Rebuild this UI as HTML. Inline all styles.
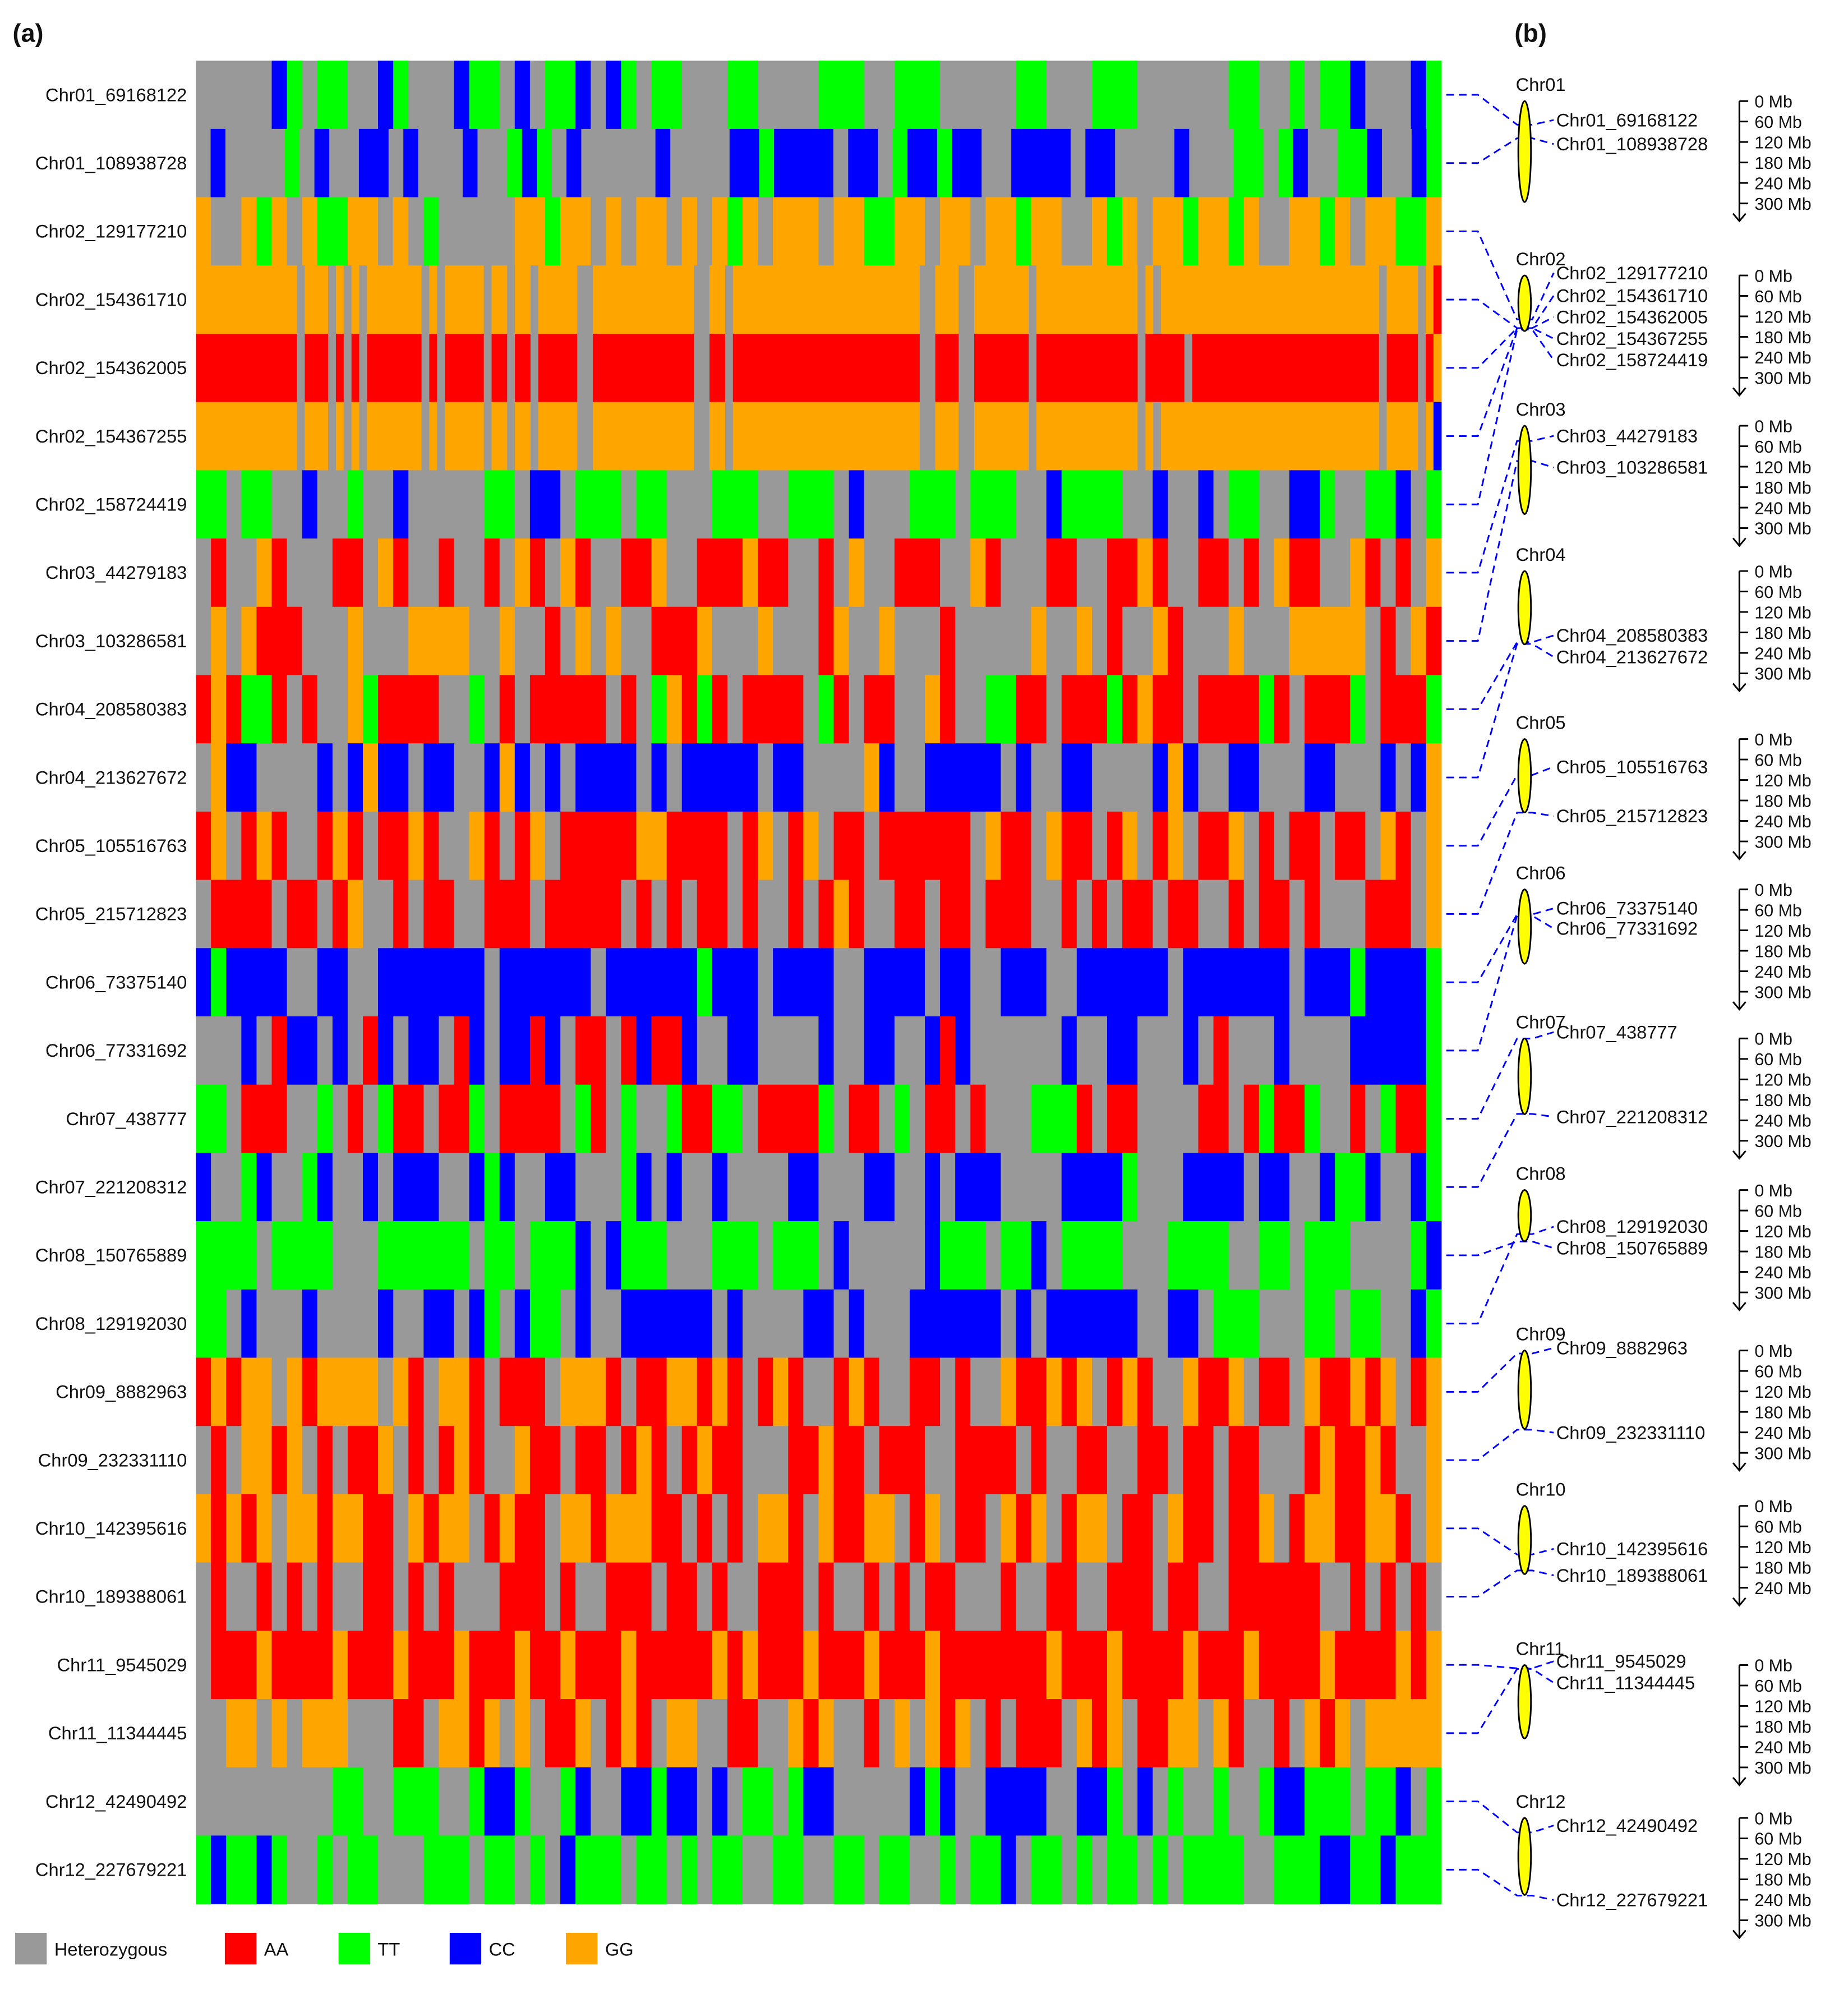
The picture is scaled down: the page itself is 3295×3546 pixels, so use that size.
<!DOCTYPE html>
<html><head><meta charset="utf-8"><style>
html,body{margin:0;padding:0;background:#fff}
svg{display:block}
text{font-family:"Liberation Sans",sans-serif;fill:#111}
</style></head><body>
<svg id="fig" width="3295" height="3546" viewBox="0 0 1463 1574.4" xmlns="http://www.w3.org/2000/svg">
<text x="10" y="33" font-size="20" font-weight="bold">(a)</text>
<text x="1199" y="33" font-size="20" font-weight="bold">(b)</text>
<g id="heat"></g>
<g id="rowlabels"></g>
<g id="links"></g>
<g id="chroms"></g>
<g id="legend"></g>
</svg>
<script>
const markers = ["Chr01_69168122","Chr01_108938728","Chr02_129177210","Chr02_154361710","Chr02_154362005","Chr02_154367255","Chr02_158724419","Chr03_44279183","Chr03_103286581","Chr04_208580383","Chr04_213627672","Chr05_105516763","Chr05_215712823","Chr06_73375140","Chr06_77331692","Chr07_438777","Chr07_221208312","Chr08_150765889","Chr08_129192030","Chr09_8882963","Chr09_232331110","Chr10_142395616","Chr10_189388061","Chr11_9545029","Chr11_11344445","Chr12_42490492","Chr12_227679221"];
const genotypes = [
"hhhhhCThTThhCThhhCTThChTTChCThTThhhTThhhhTTThhTTThhhhhTThhhTTThhhhhhTThhThTTChhhCT",
"hChhhhThChhCChChhhChhTCThChhhhhChhhhCCTCCCChCChTCCTCChhCCCChCChhhhChhhTThTChhTTChhCT",
"GhhGTGhGTTGGhGhThhhhhGGTGGhGhGGhGhGTGhGGGhGGTTGGhGGhGGTGGhhGTGhGGTGGTGhhGGTGhGGTTG",
"GGGGGGGGGGGGGhGGGhGhGhGGGGGGGhGhGGGGGhGGhGGhGGGGGhhGGGGGGGGGGGGGhhGGhGGGGGGGGGGGGGGGGGGGGGGGGhhGGGhhGGGGGGGhGGGGGGGGGGGGGhGhGGGGGGGGGGGGGGGGGGGGGGGGGGGGhGGGGhGA",
"AAAAAAAAAAAAAhAAAhAhAhAAAAAAAhAhAAAAAhAAhAAhAAAAAhhAAAAAAAAAAAAAhhAAhAAAAAAAAAAAAAAAAAAAAAAAAhhAAAhhAAAAAAAhAAAAAAAAAAAAAhAAAAAhAAAAAAAAAAAAAAAAAAAAAAAAhAAAAhAG",
"GGGGGGGGGGGGGhGGGhGhGhGGGGGGGhGhGGGGGhGGhGGhGGGGGhhGGGGGGGGGGGGGhhGGhGGGGGGGGGGGGGGGGGGGGGGGGhhGGGhhGGGGGGGhGGGGGGGGGGGGGhGhGGGGGGGGGGGGGGGGGGGGGGGGGGGGhGGGGhGC",
"TThTThhChhThhChhhhhTThCChTTThTThhhTTThhTTThChhhTTThTTThhCTTTThhChhChTThhCCThhTTChT",
"hAhhGAhhhAAhGAhhAhhAhGAhGAhhAAGhhAAAGAAhhAhGhhAAAhhGAhhhAAhhAAGAhhAAhAhGAAhhGAhAhG",
"hGhGAAAhhhGhhhGGGGhhGhhAhGhGhhAAAGhhhGhhhAGhhGhhhAhhhhhGhhGhAhhGAhhhGhhhGGGGGhAhGA",
"AGATTAhAhhGTAAAAhhThAhAAAAAhAhTGATAhAAAAhTAhAAhhGAhhTTAAhAAATAGAAhAAAATAhAAAThAAAT",
"hGCChhhhChCGCChCChhCGChChCCCChChCCCCChCChhhhGChhCCCCChChhCChhhhCGChhCChhhCChhhChCG",
"AGhAGAhhAGAhAAGAhhGAhAGhAAAAAGGAAAAhAGhAGhAAhAAAAAAhGAAhGAAhAGhAGhAAGhAhAAhAAhGAhG",
"hAAAAhAAhAGhhAhAAhhAAAhAAAAAhAhAhAAhAhhAhAGAhhAAhAAhAAAhhAhAhAAhAAhhAhAAhAhhhAAAhG",
"CTCCCChhCChhCCCCCCChCCCCCChCCCCCCTCCChCCCChhCCCChCChhCCChhCCCCCChCCCCCCChCCCTCCCCT",
"hhhChACChChAChCChAChCCAChAAhACAAChhCChhhhChhCChhCAChhhhhhChhCChhhChAhhhChhhhCCCCCT",
"TThAAAhhThAhTAAhAAThAAAAhTAhThhTAATThAAAAThAAhThAAhAhhhTTTAhAAhhhhAAhATAAThhAhTAAT",
"ChhTChhTChhChCCChhCTChhCChhhTChChhChhhhCChhhCChhChCCChhhhCCCCThhhCCCChCChhCTTChhCT",
"TTTThTTTThhhTTTTTThTThTTTChCTTThhhTTThTTThChhhhhCTTThTTChTTTThhhTTTThhTThTTThhhhTC",
"TThChhhChhhhChhCChCThCTThChhCCCCCChChhhhCChChhhCCCCCChChCCCCCChhCChTTThhhTThTThhCT",
"AGAGGhGAGGGGhGAhGGAhAAAhGGGAhAAGGAGAhAGAhhAGAhhAAhAhhGAAGAGhAGAhhGAAGhAAhGAAGAGhAG",
"hAhGGAGhAhAAGhAhAGAhhGAAhAAhAGAhAGAAhhhAAGAAhAAAhhAAAAhAhhAAhhAAhAAhAAhhhAGAAGAhhG",
"GAGAGhGGAGGAAhGAGGhAGAAhGGAGGGAAhAhAhGGAhGAAGGhAGhAAhGAGhAGGhAAhGAAhAAGhAGGAAGGAhG",
"hAhhAhAhAhhAAhAhAhhhAAAhAhhAAAhAAhAhhAAAhAhhAhAhAAhhhAhhAAhhAAAhAAhhAAAAAAhhAhAhAh",
"hAAAGAAAAGAAAGAAAGAAAGAAGAAAGAAAAAGAGAAAGAAAGAAAGAAAAAAAGAAAGAAAAGAAAGAAAAGAAAAGAG",
"hhGGhGhGGGhhhAAhGGAGhGhAAGhAGAhGGhhAAhhGAGhhAhGhGAGhAhAAAhGAGhAAGGhGAhhAhGAGhGGGGG",
"hhhhhhhhhTThhTTThhTCCThhTChhCCTCChChTThTCChhhhhCTChhCCCChhCCThChThhThhTCCTTThTTChT",
"TCTTCThhThTThhhTTThTThThCTTThTThThTThhTThhTThTThhThTTChTThThTThThTTTThhTTTCCTTCTTT"
];
const chromNames = ["Chr01","Chr02","Chr03","Chr04","Chr05","Chr06","Chr07","Chr08","Chr09","Chr10","Chr11","Chr12"];
const chromLenMb = [296,163,259,215,215,218,222,150,230,200,215,226];
const chromTop = [80,218,337,452,585,704,822,942,1069,1192,1318,1439];
const markerChr = [0,0,1,1,1,1,1,2,2,3,3,4,4,5,5,6,6,7,7,8,8,9,9,10,10,11,11];
const markerMb = [69.17,108.94,129.18,154.36,154.36,154.37,158.72,44.28,103.29,208.58,213.63,105.52,215.71,73.38,77.33,0.44,221.21,150.77,129.19,8.88,232.33,142.40,189.39,9.55,11.34,42.49,227.68];
const labelY = [100,119,221,239,256,273,290,350,375,508,525,612,651,724,740,822,889,993,976,1072,1139,1231,1252,1320,1337,1450,1509];
const scaleTicks = ["0 Mb","60 Mb","120 Mb","180 Mb","240 Mb","300 Mb"];
const chromTickCount = [6,6,6,6,6,6,6,6,6,5,6,6];
const legendNames = ["Heterozygous","AA","TT","CC","GG"];
const legendCodes = ["h","A","T","C","G"];

const COLORS = {h:"#999999",A:"#ff0000",T:"#00ff00",C:"#0000ff",G:"#ffa500"};
const NS="http://www.w3.org/2000/svg";
const HX0=155, HX1=1141, HY0=48, HY1=1507;
const rowH=(HY1-HY0)/markers.length;
const PXMB=81/300;
function yRow(i){return HY0+rowH*i;}
function yMb(c,mb){return chromTop[c]+mb*PXMB;}
function mk(tag,attrs,parent){const e=document.createElementNS(NS,tag);for(const k in attrs)e.setAttribute(k,attrs[k]);parent.appendChild(e);return e;}

const heat=document.getElementById('heat');
genotypes.forEach((s,i)=>{
  const cw=(HX1-HX0)/s.length;
  let j=0;
  while(j<s.length){
    let k=j; while(k<s.length && s[k]===s[j]) k++;
    const r=mk('rect',{x:HX0+j*cw,y:yRow(i),width:(k-j)*cw+0.3,height:rowH+0.3,fill:COLORS[s[j]]},heat);
    
    
    j=k;
  }
});
const rl=document.getElementById('rowlabels');
markers.forEach((m,i)=>{
  const t=mk('text',{x:148,y:yRow(i)+rowH/2+5,'font-size':14.5,'text-anchor':'end'},rl);
  t.textContent=m;
  
  
});
const ch=document.getElementById('chroms');
const CX=1207;
chromNames.forEach((n,c)=>{
  const top=chromTop[c], bot=top+chromLenMb[c]*PXMB;
  const t=mk('text',{x:CX-7,y:top-8,'font-size':14.5},ch);t.textContent=n;
  
  
  const e=mk('ellipse',{cx:CX,cy:(top+bot)/2,rx:5,ry:(bot-top)/2,fill:"#ffff00",stroke:"#000","stroke-width":1.3},ch);
  
  
  const sx=1377;
  const n2=chromTickCount[c];
  const last=top+(n2-1)*60*PXMB;
  mk('line',{x1:sx,y1:top,x2:sx,y2:last+14,stroke:"#000","stroke-width":1.3},ch);
  mk('polyline',{points:`${sx-5},${last+8} ${sx},${last+14} ${sx+5},${last+8}`,fill:"none",stroke:"#000","stroke-width":1.3},ch);
  for(let k=0;k<n2;k++){
    const y=top+k*60*PXMB;
    mk('line',{x1:sx,y1:y,x2:sx+7,y2:y,stroke:"#000","stroke-width":1.3},ch);
    const tt=mk('text',{x:1389,y:y+5,'font-size':13.5},ch);tt.textContent=scaleTicks[k];
    
    
  }
});
const ln=document.getElementById('links');
markers.forEach((m,i)=>{
  const c=markerChr[i];
  const my=yMb(c,markerMb[i]);
  const ry=yRow(i)+rowH/2;
  const p=mk('path',{d:`M1145,${ry} L1170,${ry} L${CX-6},${my} L${CX+6},${my} L1230,${labelY[i]-5}`,fill:"none",stroke:"#0000ff","stroke-width":1.3,"stroke-dasharray":"6,4"},ln);
  
  
  const t=mk('text',{x:1232,y:labelY[i],'font-size':14.5},ch);t.textContent=m;
  
  
});
const lg=document.getElementById('legend');
const lgX=[12,178,268,356,448];
legendNames.forEach((n,i)=>{
  const r=mk('rect',{x:lgX[i],y:1530,width:25,height:25,fill:COLORS[legendCodes[i]]},lg);
  
  
  const t=mk('text',{x:lgX[i]+31,y:1548,'font-size':14.5},lg);t.textContent=n;
  
  
});
</script>
</body></html>
